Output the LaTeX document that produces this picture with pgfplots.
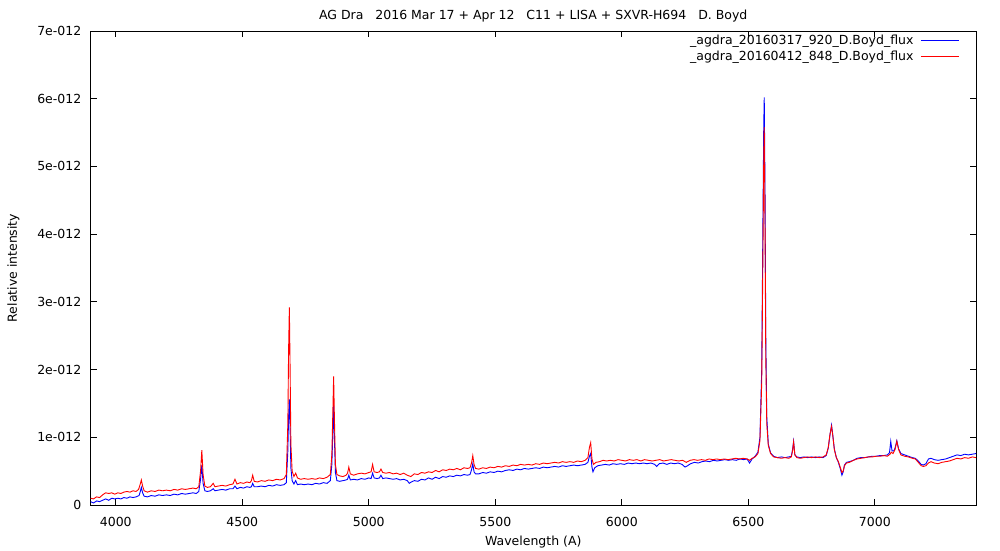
\documentclass[border=0pt]{standalone}
\usepackage{pgfplots}
\pgfplotsset{compat=1.18}
\usepackage{fontspec}
\setmainfont{DejaVu Sans}
\begin{document}
\fontsize{12.5pt}{15pt}\selectfont
\begin{tikzpicture}
\path[use as bounding box] (0,0) rectangle (1000pt,550pt);
\begin{axis}[
  at={(90.5pt,45pt)}, anchor=south west,
  scale only axis, width=885.5pt, height=474pt,
  xmin=3900, xmax=7400, ymin=0, ymax=7,
  xtick={4000,4500,...,7000},
  ytick={0,1,...,7},
  yticklabels={0,1e-012,2e-012,3e-012,4e-012,5e-012,6e-012,7e-012},
  scaled x ticks=false,
  /pgf/number format/1000 sep={},
  /pgf/number format/assume math mode=true,
  tick align=inside, major tick length=6pt,
  axis line style={line width=1pt, black},
  every tick/.style={black, line width=1pt},
  xticklabel style={anchor=base, yshift=-21pt, inner sep=0pt},
  yticklabel style={anchor=east, xshift=-9pt, inner sep=0pt},
  title={AG Dra\ \ \ 2016 Mar 17 + Apr 12\ \ \ C11 + LISA + SXVR-H694\ \ \ D. Boyd},
  title style={at={(axis description cs:0.5,1)}, anchor=base, yshift=6pt, inner sep=0pt},
  xlabel={Wavelength (A)},
  xlabel style={at={(axis description cs:0.5,0)}, anchor=base, yshift=-40pt, inner sep=0pt},
  ylabel={Relative intensity},
  ylabel style={at={(axis description cs:0,0.5)}, anchor=center, yshift=77pt, inner sep=0pt},
  legend plot pos=right,
  legend cell align=right,
  line legend,
  legend image post style={xscale=2.25},
  legend style={draw=none, fill=none, at={(axis description cs:1,1)}, anchor=north east,
    xshift=-16pt, yshift=-3pt, inner sep=0pt, row sep=2.5pt,
    nodes={inner sep=1pt},
    /tikz/every odd column/.append style={column sep=6pt}},
]
\addplot[blue, line width=0.9pt] coordinates {
(3900,0.05) (3912,0.03) (3924,0.06) (3936,0.05) (3948,0.07) (3960,0.09) (3972,0.07) (3984,0.10) (3996,0.09) (4008,0.10) (4020,0.09) (4032,0.11) (4044,0.10) (4056,0.12) (4068,0.11) (4080,0.12) (4092,0.14) (4097,0.20) (4101,0.26) (4106,0.18) (4112,0.13) (4125,0.12) (4140,0.14) (4155,0.13) (4170,0.15) (4185,0.14) (4200,0.15) (4215,0.14) (4230,0.16) (4245,0.15) (4260,0.17) (4275,0.16) (4290,0.17) (4305,0.18) (4318,0.17) (4328,0.20) (4335,0.38) (4340,0.59) (4345,0.32) (4352,0.21) (4362,0.20) (4374,0.21) (4385,0.24) (4392,0.21) (4405,0.22) (4420,0.23) (4435,0.22) (4450,0.24) (4463,0.24) (4471,0.28) (4479,0.24) (4492,0.26) (4505,0.25) (4518,0.27) (4530,0.26) (4536,0.27) (4541,0.32) (4547,0.27) (4560,0.27) (4575,0.28) (4590,0.27) (4605,0.29) (4620,0.28) (4635,0.30) (4650,0.29) (4665,0.30) (4674,0.33) (4680,0.8) (4683,1.3) (4686,1.56) (4689,1.1) (4692,0.55) (4697,0.36) (4704,0.31) (4711,0.36) (4718,0.30) (4730,0.31) (4745,0.30) (4760,0.31) (4775,0.30) (4790,0.32) (4805,0.31) (4820,0.33) (4835,0.32) (4848,0.36) (4854,0.60) (4858,1.1) (4861,1.47) (4864,1.0) (4868,0.48) (4874,0.36) (4885,0.35) (4898,0.36) (4910,0.37) (4916,0.38) (4921,0.44) (4927,0.37) (4940,0.38) (4955,0.37) (4970,0.39) (4985,0.38) (5000,0.40) (5009,0.39) (5015,0.47) (5021,0.40) (5033,0.39) (5042,0.40) (5048,0.44) (5055,0.39) (5068,0.40) (5082,0.39) (5096,0.38) (5110,0.39) (5124,0.37) (5138,0.38) (5152,0.36) (5160,0.32) (5168,0.34) (5180,0.36) (5194,0.35) (5208,0.38) (5222,0.37) (5236,0.40) (5250,0.38) (5264,0.41) (5278,0.39) (5292,0.42) (5306,0.41) (5320,0.43) (5334,0.42) (5348,0.44) (5362,0.43) (5376,0.45) (5390,0.44) (5400,0.45) (5406,0.52) (5411,0.61) (5416,0.49) (5422,0.46) (5435,0.46) (5450,0.48) (5465,0.47) (5480,0.49) (5495,0.48) (5510,0.50) (5525,0.49) (5540,0.51) (5555,0.52) (5570,0.51) (5585,0.53) (5600,0.52) (5615,0.54) (5630,0.53) (5645,0.54) (5660,0.55) (5675,0.54) (5690,0.56) (5705,0.55) (5720,0.56) (5735,0.57) (5750,0.56) (5765,0.58) (5780,0.57) (5795,0.58) (5810,0.59) (5825,0.58) (5840,0.59) (5855,0.60) (5866,0.63) (5872,0.72) (5877,0.76) (5882,0.56) (5886,0.49) (5893,0.55) (5905,0.58) (5920,0.59) (5935,0.60) (5950,0.59) (5965,0.61) (5980,0.60) (5995,0.61) (6010,0.60) (6025,0.62) (6040,0.61) (6055,0.62) (6070,0.61) (6085,0.62) (6100,0.61) (6115,0.62) (6130,0.60) (6138,0.57) (6148,0.61) (6163,0.62) (6178,0.60) (6193,0.62) (6208,0.61) (6223,0.62) (6238,0.60) (6250,0.56) (6260,0.58) (6272,0.61) (6287,0.63) (6302,0.62) (6317,0.64) (6332,0.65) (6347,0.64) (6362,0.66) (6377,0.65) (6392,0.66) (6407,0.67) (6422,0.66) (6437,0.67) (6452,0.66) (6467,0.68) (6482,0.67) (6495,0.68) (6505,0.62) (6515,0.68) (6527,0.72) (6538,0.78) (6546,1.0) (6553,2.0) (6558,4.3) (6561,5.6) (6563,6.02) (6566,4.7) (6569,2.5) (6573,1.3) (6579,0.90) (6588,0.77) (6600,0.72) (6615,0.70) (6630,0.71) (6645,0.70) (6660,0.71) (6670,0.72) (6675,0.82) (6679,0.94) (6684,0.74) (6692,0.71) (6705,0.70) (6720,0.71) (6735,0.70) (6750,0.71) (6765,0.70) (6780,0.71) (6795,0.70) (6808,0.73) (6816,0.84) (6823,1.04) (6829,1.18) (6834,1.03) (6840,0.83) (6848,0.70) (6856,0.63) (6864,0.53) (6870,0.44) (6875,0.49) (6880,0.59) (6888,0.63) (6900,0.64) (6915,0.66) (6930,0.69) (6945,0.70) (6960,0.70) (6975,0.71) (6990,0.72) (7005,0.72) (7020,0.73) (7035,0.73) (7050,0.74) (7058,0.77) (7063,0.94) (7068,0.80) (7075,0.80) (7080,0.84) (7087,0.95) (7094,0.83) (7103,0.76) (7118,0.74) (7133,0.72) (7148,0.70) (7160,0.69) (7172,0.65) (7183,0.60) (7192,0.59) (7202,0.61) (7212,0.68) (7222,0.69) (7235,0.67) (7250,0.66) (7265,0.67) (7280,0.68) (7295,0.70) (7310,0.72) (7325,0.74) (7340,0.73) (7355,0.75) (7370,0.74) (7385,0.75) (7400,0.76)
};
\addlegendentry{\_agdra\_20160317\_920\_D.Boyd\_flux}
\addplot[red, line width=0.9pt] coordinates {
(3900,0.10) (3912,0.09) (3924,0.12) (3936,0.11) (3948,0.15) (3960,0.18) (3972,0.17) (3984,0.18) (3996,0.16) (4008,0.18) (4020,0.17) (4032,0.19) (4044,0.20) (4056,0.19) (4068,0.21) (4080,0.20) (4090,0.23) (4096,0.30) (4101,0.37) (4106,0.28) (4112,0.21) (4125,0.19) (4140,0.21) (4155,0.20) (4170,0.22) (4185,0.21) (4200,0.22) (4215,0.21) (4230,0.23) (4245,0.22) (4260,0.24) (4275,0.23) (4290,0.24) (4305,0.25) (4318,0.24) (4328,0.27) (4335,0.50) (4340,0.81) (4345,0.45) (4352,0.28) (4362,0.26) (4374,0.27) (4385,0.32) (4392,0.27) (4405,0.28) (4420,0.29) (4435,0.28) (4450,0.30) (4463,0.31) (4471,0.38) (4479,0.31) (4492,0.33) (4505,0.32) (4518,0.34) (4530,0.33) (4536,0.36) (4541,0.44) (4547,0.35) (4560,0.34) (4575,0.36) (4590,0.35) (4605,0.37) (4620,0.36) (4635,0.38) (4650,0.37) (4665,0.39) (4674,0.45) (4680,1.2) (4683,2.3) (4686,2.92) (4689,2.0) (4692,0.9) (4697,0.50) (4704,0.42) (4711,0.47) (4718,0.40) (4730,0.38) (4745,0.39) (4760,0.38) (4775,0.39) (4790,0.38) (4805,0.40) (4820,0.39) (4835,0.41) (4848,0.45) (4854,0.75) (4858,1.4) (4861,1.90) (4864,1.3) (4868,0.60) (4874,0.45) (4885,0.43) (4898,0.42) (4910,0.44) (4916,0.47) (4921,0.56) (4927,0.46) (4940,0.44) (4955,0.46) (4970,0.47) (4985,0.46) (5000,0.48) (5009,0.49) (5015,0.60) (5021,0.49) (5033,0.48) (5042,0.49) (5048,0.53) (5055,0.48) (5068,0.47) (5082,0.48) (5096,0.46) (5110,0.47) (5124,0.45) (5138,0.47) (5152,0.44) (5166,0.42) (5180,0.46) (5194,0.45) (5208,0.48) (5222,0.47) (5236,0.49) (5250,0.48) (5264,0.51) (5278,0.49) (5292,0.52) (5306,0.51) (5320,0.53) (5334,0.52) (5348,0.54) (5362,0.52) (5376,0.55) (5390,0.54) (5400,0.55) (5406,0.62) (5411,0.73) (5416,0.60) (5422,0.54) (5435,0.53) (5450,0.55) (5465,0.54) (5480,0.56) (5495,0.55) (5510,0.57) (5525,0.56) (5540,0.58) (5555,0.57) (5570,0.59) (5585,0.58) (5600,0.60) (5615,0.59) (5630,0.60) (5645,0.59) (5660,0.61) (5675,0.60) (5690,0.62) (5705,0.61) (5720,0.62) (5735,0.63) (5750,0.62) (5765,0.64) (5780,0.63) (5795,0.64) (5810,0.63) (5825,0.65) (5840,0.64) (5855,0.66) (5866,0.70) (5872,0.85) (5877,0.92) (5882,0.68) (5888,0.60) (5898,0.63) (5912,0.64) (5926,0.66) (5940,0.65) (5955,0.66) (5970,0.65) (5985,0.67) (6000,0.66) (6015,0.65) (6030,0.67) (6045,0.66) (6060,0.67) (6075,0.65) (6090,0.67) (6105,0.66) (6120,0.65) (6135,0.66) (6150,0.67) (6165,0.65) (6180,0.66) (6195,0.67) (6210,0.66) (6225,0.65) (6240,0.66) (6255,0.63) (6270,0.66) (6285,0.67) (6300,0.66) (6315,0.67) (6330,0.66) (6345,0.68) (6360,0.67) (6375,0.68) (6390,0.67) (6405,0.68) (6420,0.67) (6435,0.68) (6450,0.69) (6465,0.68) (6480,0.69) (6495,0.68) (6505,0.66) (6515,0.69) (6527,0.71) (6538,0.76) (6546,0.95) (6553,1.8) (6558,3.8) (6561,5.1) (6563,5.58) (6566,4.2) (6569,2.2) (6573,1.2) (6579,0.88) (6588,0.76) (6600,0.71) (6615,0.70) (6630,0.69) (6645,0.70) (6660,0.69) (6670,0.71) (6675,0.80) (6679,0.93) (6684,0.74) (6692,0.70) (6705,0.69) (6720,0.70) (6735,0.71) (6750,0.70) (6765,0.71) (6780,0.70) (6795,0.71) (6808,0.74) (6816,0.85) (6823,1.05) (6829,1.16) (6834,1.02) (6840,0.82) (6848,0.70) (6856,0.64) (6864,0.55) (6870,0.48) (6875,0.50) (6880,0.58) (6888,0.62) (6900,0.63) (6915,0.66) (6930,0.68) (6945,0.69) (6960,0.70) (6975,0.71) (6990,0.71) (7005,0.72) (7020,0.72) (7035,0.73) (7050,0.72) (7060,0.75) (7065,0.78) (7072,0.76) (7080,0.82) (7087,0.94) (7094,0.82) (7103,0.74) (7118,0.72) (7133,0.71) (7148,0.69) (7160,0.68) (7172,0.63) (7183,0.58) (7192,0.57) (7202,0.58) (7212,0.62) (7222,0.64) (7235,0.62) (7250,0.61) (7265,0.63) (7280,0.64) (7295,0.65) (7310,0.67) (7325,0.69) (7340,0.68) (7355,0.70) (7370,0.69) (7385,0.71) (7400,0.70)
};
\addlegendentry{\_agdra\_20160412\_848\_D.Boyd\_flux}
\end{axis}
\end{tikzpicture}
\end{document}
